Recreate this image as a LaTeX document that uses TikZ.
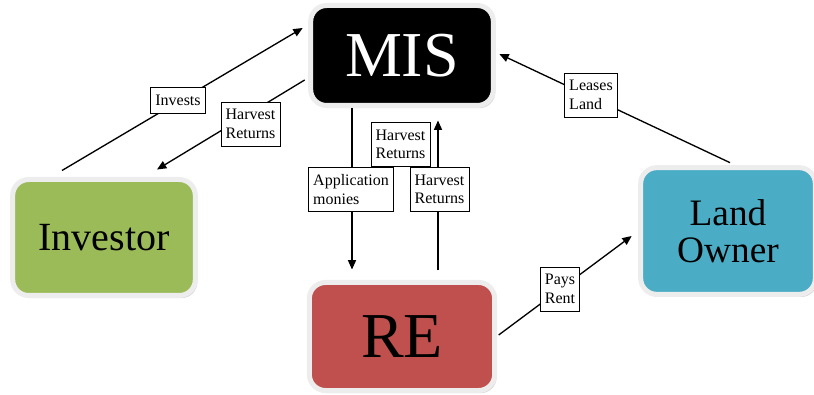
\documentclass[tikz,border=0pt]{standalone}
\usepackage{fontspec}
\setmainfont{Liberation Serif}
\usetikzlibrary{
  arrows.meta,
  calc,
  shadows,
}
\definecolor{investorFill}{HTML}{9BBB59}
\definecolor{reFill}{HTML}{C0504D}
\definecolor{ownerFill}{HTML}{4BACC6}
\definecolor{rimgray}{HTML}{EDEDED}
\tikzset{
  entity/.style={
    rectangle, rounded corners=12pt, draw=rimgray, line width=3.75pt,
    fill=#1, inner sep=0pt, align=center,
    drop shadow={shadow xshift=1.5pt, shadow yshift=-2pt, fill=black!30},
  },
  tag/.style={
    rectangle, draw=black, line width=0.6pt, fill=white,
    inner xsep=3.5pt, inner ysep=5.5pt, align=left,
    font=\fontsize{12}{14}\selectfont,
  },
  flow/.style={
    -{Triangle[length=7pt,width=6pt]}, line width=1pt,
  },
}

\begin{document}
\begin{tikzpicture}[x=0.75pt, y=-0.75pt]
\useasboundingbox (0,0) rectangle (814,395);

% the four parties
\node[entity=black, text=white, minimum width=137pt, minimum height=75pt,
      font=\fontsize{48}{50}\selectfont] (mis) at (402,55.5) {MIS};
\node[entity=investorFill, minimum width=137pt, minimum height=87pt,
      font=\fontsize{30}{32}\selectfont] (inv) at (104,237.5) {Investor};
\node[entity=reFill, minimum width=139pt, minimum height=81pt,
      font=\fontsize{48}{50}\selectfont] (re) at (402,336.5) {RE};
\node[entity=ownerFill, minimum width=131pt, minimum height=95pt,
      font=\fontsize{28}{28}\selectfont] (lo) at (728,231) {Land\\Owner};

% money and land flows
\draw[flow] ($(inv.north)+(-42,-6.5)$) -- ($(mis.west)+(-5.5,-27.5)$);
\draw[flow] ($(mis.west)+(-3.5,24.5)$) -- ($(inv.north)+(53,-7.5)$);
\draw[flow] ($(mis.south)+(-50,0)$) -- ($(re.north)+(-50,-10.5)$);
\draw[flow] ($(re.north)+(36,-9.5)$) -- ($(mis.south)+(36,12.5)$);
\draw[flow] ($(lo.north)+(2,-2.5)$) -- ($(mis.east)+(3.5,-1.5)$);
\draw[flow] ($(re.east)+(1.5,-1.5)$) -- ($(lo.west)+(-6.5,5)$);

% labels on the flows
\foreach \nm/\px/\py/\txt in {%
  tInvests/178/100.5/Invests,%
  tHarvestL/250.5/124/{Harvest\\Returns},%
  tHarvestM/400.5/144.5/{Harvest\\Returns},%
  tApplication/351/189.5/{Application\\monies},%
  tHarvestR/439.5/189.5/{Harvest\\Returns},%
  tLeases/591/95/{Leases\\Land},%
  tPays/560/289/{Pays\\Rent}%
}
{
  \node[tag] (\nm) at (\px,\py) {\txt};
}

\end{tikzpicture}
\end{document}
